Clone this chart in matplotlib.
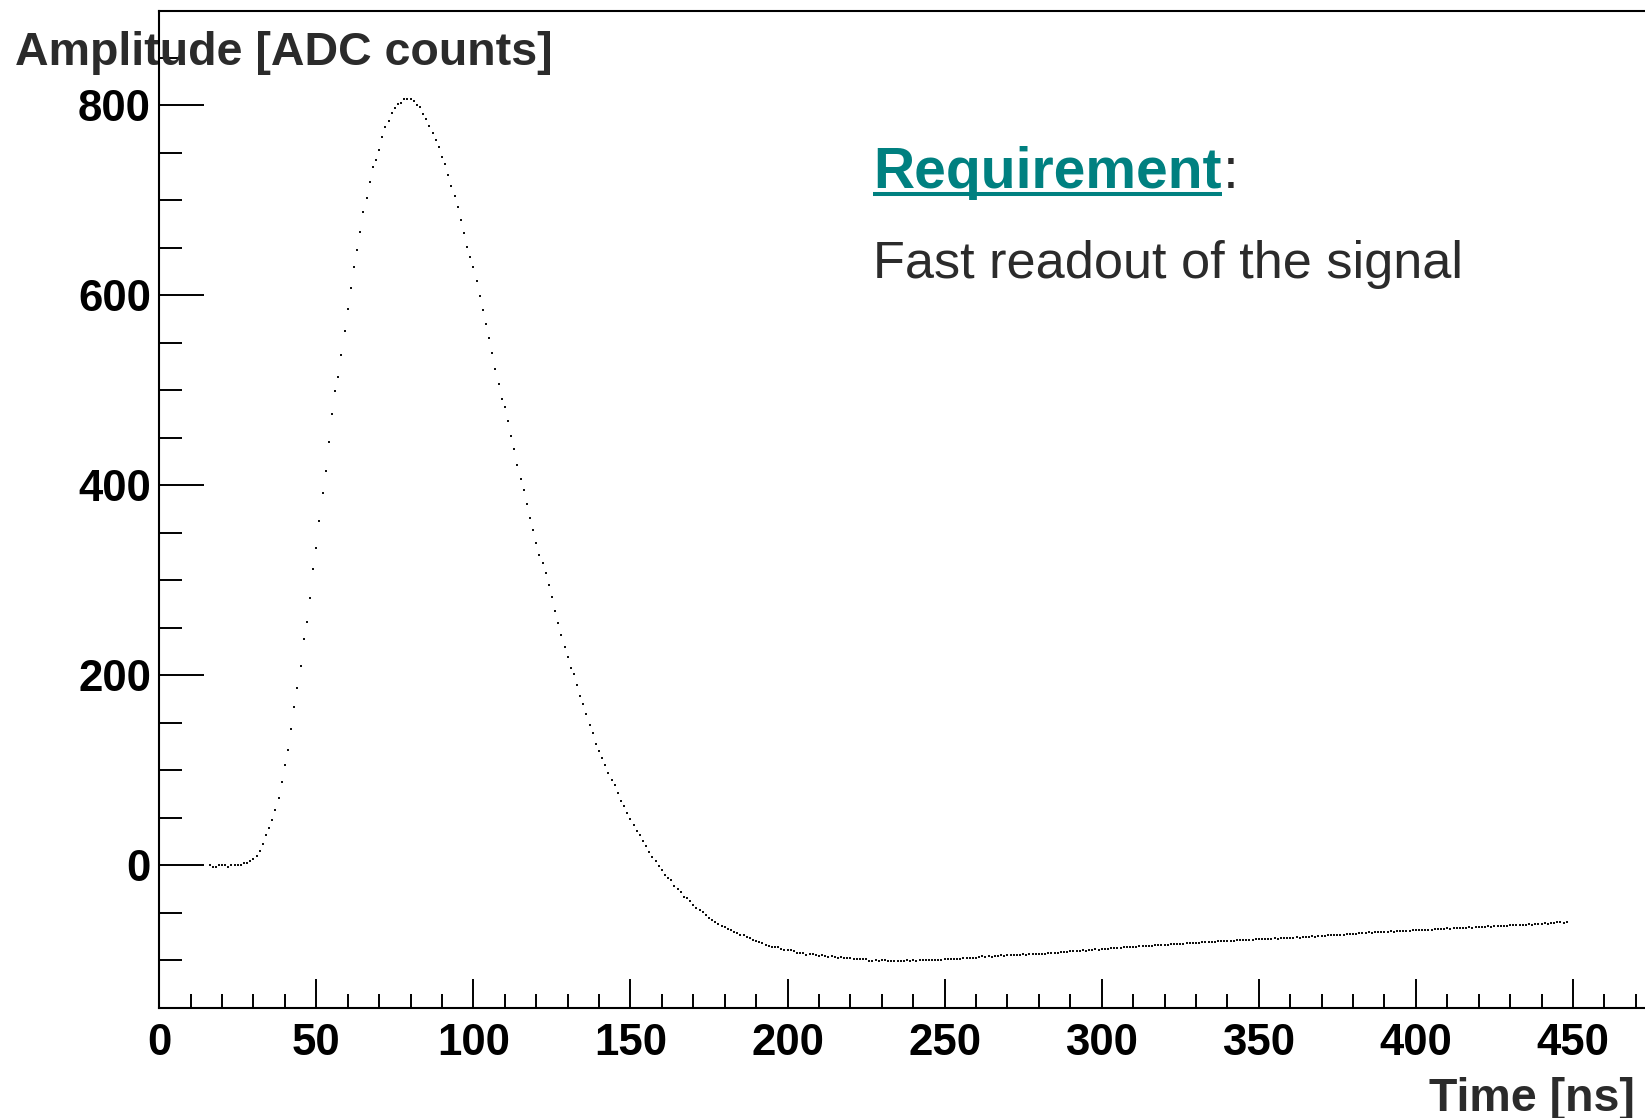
import numpy as np
import matplotlib
matplotlib.use('Agg')
import matplotlib.pyplot as plt
from matplotlib.ticker import MultipleLocator, FixedLocator
from matplotlib.lines import Line2D

plt.rcParams['font.family'] = ['Liberation Sans', 'DejaVu Sans']
plt.rcParams['font.weight'] = 'bold'

# digitised pulse, one sample per ns starting at 16 ns
first_sample_ns = 16
amplitude = [
    0, -2, -2, 0, 0, 0, -2, 0, 0, 0,
    0, 2, 2, 4, 7, 10, 15, 22, 32, 39,
    48, 58, 71, 88, 106, 121, 143, 167, 187, 210,
    238, 256, 281, 312, 334, 362, 392, 415, 446, 475,
    499, 514, 537, 563, 586, 608, 630, 648, 667, 688,
    703, 719, 735, 743, 753, 767, 777, 784, 792, 797,
    802, 803, 807, 807, 807, 805, 801, 798, 791, 786,
    778, 771, 764, 756, 746, 738, 727, 715, 705, 693,
    679, 666, 651, 640, 630, 615, 599, 585, 570, 555,
    539, 523, 507, 491, 482, 468, 452, 438, 421, 407,
    395, 380, 366, 353, 339, 327, 318, 308, 295, 282,
    268, 255, 242, 230, 219, 208, 201, 190, 178, 170,
    159, 148, 139, 128, 120, 113, 105, 97, 90, 84,
    76, 68, 62, 55, 49, 42, 36, 32, 26, 20,
    14, 9, 4, -1, -5, -10, -13, -16, -22, -25,
    -28, -33, -35, -38, -42, -45, -47, -49, -52, -56,
    -58, -60, -62, -64, -65, -67, -68, -70, -71, -73,
    -74, -76, -77, -79, -80, -81, -82, -84, -85, -86,
    -86, -86, -88, -89, -89, -89, -90, -92, -92, -92,
    -95, -93, -94, -95, -96, -95, -96, -97, -96, -97,
    -98, -97, -98, -98, -98, -99, -99, -99, -99, -99,
    -101, -101, -100, -101, -100, -100, -101, -101, -101, -101,
    -101, -101, -100, -101, -100, -101, -100, -100, -100, -100,
    -100, -100, -100, -100, -99, -99, -99, -99, -99, -99,
    -98, -98, -98, -98, -98, -97, -96, -97, -96, -97,
    -96, -96, -95, -96, -95, -95, -95, -95, -95, -94,
    -95, -94, -94, -94, -93, -93, -93, -92, -92, -92,
    -92, -91, -91, -91, -90, -90, -90, -90, -89, -90,
    -89, -89, -88, -89, -88, -88, -88, -87, -87, -87,
    -87, -86, -86, -86, -86, -86, -85, -85, -85, -85,
    -85, -84, -84, -84, -84, -84, -83, -83, -83, -83,
    -83, -82, -82, -82, -82, -82, -81, -81, -81, -81,
    -81, -80, -80, -80, -80, -80, -80, -79, -79, -79,
    -79, -79, -79, -78, -78, -78, -78, -78, -78, -77,
    -78, -77, -77, -77, -77, -77, -76, -77, -76, -76,
    -76, -75, -76, -75, -75, -75, -74, -74, -74, -73,
    -73, -73, -72, -72, -72, -72, -71, -71, -71, -70,
    -71, -70, -70, -70, -70, -70, -69, -70, -69, -69,
    -69, -69, -69, -68, -68, -68, -68, -68, -68, -68,
    -67, -67, -67, -67, -66, -67, -66, -66, -66, -66,
    -66, -65, -66, -65, -65, -65, -65, -64, -65, -64,
    -64, -64, -64, -64, -63, -63, -63, -63, -63, -63,
    -62, -63, -62, -62, -62, -61, -62, -61, -61, -60,
    -60, -61, -60,
]
time_ns = np.arange(first_sample_ns, first_sample_ns + len(amplitude))
x_major = [0, 50, 100, 150, 200, 250, 300, 350, 400, 450]

W, H = 1645, 1118
fig = plt.figure(figsize=(W / 100, H / 100), dpi=100)
# frame runs past the right edge of the canvas
ax = fig.add_axes([0.0968, 0.0987, 0.9549, 0.8919])

ax.plot(time_ns, amplitude, ls='none', marker='s', ms=1.6, mew=0, color='#111111')

ax.set_xlim(0, 500)
ax.set_ylim(-150, 900)
for side in ['left', 'bottom', 'top']:
    ax.spines[side].set_linewidth(1.5)
ax.spines['right'].set_visible(False)

ax.xaxis.set_major_locator(FixedLocator(x_major))
ax.xaxis.set_minor_locator(MultipleLocator(10))
ax.yaxis.set_major_locator(MultipleLocator(200))
ax.yaxis.set_minor_locator(MultipleLocator(50))
ax.tick_params(which='both', direction='in', top=False, right=False, width=1.4, colors='black')
ax.tick_params(axis='y', which='major', length=32.4, pad=6, labelsize=31.5)
ax.tick_params(axis='y', which='minor', length=16.3)
ax.tick_params(axis='x', which='major', length=21, pad=11, labelsize=31.5)
ax.tick_params(axis='x', which='minor', length=10.4)

ax.set_ylabel('Amplitude [ADC counts]', rotation=0, ha='left', va='baseline',
              fontsize=33.5, fontweight='bold', color='#2b2b2b')
ax.yaxis.set_label_coords(-0.0919, 0.9454)
ax.set_xlabel('Time [ns]', ha='right', va='baseline',
              fontsize=33.5, fontweight='bold', color='#2b2b2b')
ax.xaxis.set_label_coords(0.9395, -0.1036)

# annotation block
req = fig.text(873 / W, (H - 188) / H, 'Requirement', fontsize=41, fontweight='bold',
               color='#008080', ha='left', va='baseline')
fig.canvas.draw()
bb = req.get_window_extent()
fig.add_artist(Line2D([bb.x0 / W, bb.x1 / W], [(H - 194) / H] * 2, color='#008080',
                      lw=2.9, solid_capstyle='butt'))
fig.text(bb.x1 / W + 0.001, (H - 188) / H, ':', fontsize=41, fontweight='normal',
         color='#2b2b2b', ha='left', va='baseline')
fig.text(873 / W, (H - 278) / H, 'Fast readout of the signal', fontsize=37.6,
         fontweight='normal', color='#2b2b2b', ha='left', va='baseline')

fig.savefig('out.png', dpi=100)
